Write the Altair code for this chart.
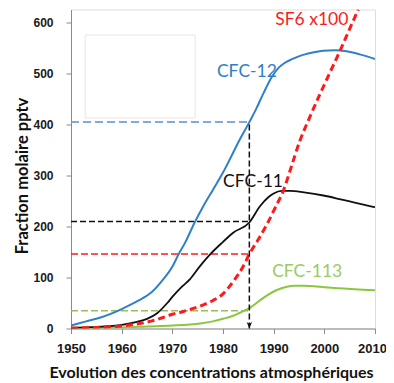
import altair as alt
import pandas as pd

# ---- data ----
cfc12_year = [1950, 1953, 1956, 1960, 1963, 1966, 1968, 1970, 1971.2, 1972.5, 1974.5, 1976, 1978,
              1980, 1981.4, 1983, 1985.2, 1986.5, 1988, 1989.6, 1991, 1992, 1993.5, 1995.2, 1997.5,
              1999.8, 2002, 2004.4, 2007, 2010]
cfc12_val = [6, 14, 22, 38, 53, 72, 94, 121, 145, 168, 210, 238, 272,
             306, 333, 365, 405, 430, 462, 493, 512, 520, 528, 535, 541,
             545, 546, 544, 538, 529]

cfc11_year = [1950, 1955, 1960, 1963, 1965, 1967, 1969, 1970, 1972, 1973.5, 1975.5, 1977.5, 1980,
              1982, 1985.2, 1987.3, 1989, 1990, 1991.6, 1993.3, 1996, 1999.8, 2003, 2006, 2010]
cfc11_val = [1, 3, 7, 13, 19, 30, 50, 62, 83, 97, 123, 146, 170,
             188, 208, 240, 258, 265, 270, 270, 267, 261, 254, 247, 238]

sf6_year = [1950, 1955, 1960, 1963, 1966, 1968, 1970, 1972, 1974, 1976, 1978, 1980, 1982, 1984,
            1985.2, 1987, 1988.7, 1990.3, 1991.9, 1993.5, 1995.2, 1997, 1999, 2001, 2003.1, 2005,
            2006.7]
sf6_val = [1, 2, 5, 9, 15, 21, 28, 33, 39, 46, 55, 68, 92, 122,
           146, 175, 205, 237, 270, 318, 369, 412, 457, 500, 545, 588,
           626]

cfc113_year = [1950, 1955, 1960, 1965, 1970, 1973.5, 1975.5, 1978, 1980, 1982, 1984, 1985.2, 1987,
               1988.7, 1990.5, 1992.6, 1994, 1996, 1998, 2000, 2003, 2006, 2010]
cfc113_val = [0, 1, 2, 4, 6, 8, 10, 14, 19, 25, 34, 40, 53,
              65, 75, 82, 84, 84, 83, 81, 79, 77, 75]

ref_names = ["CFC-12", "CFC-11", "SF6 x100", "CFC-113"]
ref_values = [405, 210, 146, 35]
ref_year = 1985.2
start_year = 1950

label_text = ["SF6 x100", "CFC-12", "CFC-11", "CFC-113"]
label_year = [1990.3, 1978.8, 1980.0, 1989.7]
label_value = [605, 504, 287, 111]
label_color = ["#ff1a1a", "#2f80c8", "#111111", "#9acb62"]

box_year = [1952.8, 1974.5]
box_value = [413, 576]

x_ticks = [1950, 1960, 1970, 1980, 1990, 2000, 2010]
y_ticks = [0, 100, 200, 300, 400, 500, 600]

# ---- encodings ----
x_axis = alt.Axis(values=x_ticks, format="d", grid=False, labelFlush=False, labelOverlap=False,
                  labelOffset={"condition": {"test": "datum.value == 2010", "value": -3},
                               "value": 0},
                  title="Evolution des concentrations atmosphériques",
                  labelFont="Liberation Sans", labelFontWeight="bold", labelFontSize=13,
                  labelColor="#1a1a1a", labelPadding=9, tickSize=5, tickColor="#8a8a8a",
                  domainColor="#8a8a8a", titleFont="Lato", titleFontWeight="bold",
                  titleFontSize=16, titleColor="#111111", titleX=140, titleY=44,
                  titleBaseline="middle", titleAlign="center")
y_axis = alt.Axis(values=y_ticks, format="d", grid=False, labelFlush=False, labelOverlap=False,
                  title="Fraction molaire pptv",
                  labelFont="Liberation Sans", labelFontWeight="bold", labelFontSize=12,
                  labelColor="#1a1a1a", labelPadding=13, tickSize=5, tickColor="#8a8a8a",
                  domainColor="#8a8a8a", titleFont="Lato", titleFontWeight="bold",
                  titleFontSize=16.5, titleColor="#111111", titleX=-49, titleY=166,
                  titleAngle=270, titleBaseline="middle", titleAlign="center")
xs = alt.Scale(domain=[1950, 2010], nice=False, zero=False)
ys = alt.Scale(domain=[0, 626], nice=False)


def X(field="year"):
    return alt.X(f"{field}:Q", scale=xs, axis=x_axis)


def Y(field="value"):
    return alt.Y(f"{field}:Q", scale=ys, axis=y_axis)


def curve(years, vals, color, width, dash=None):
    df = pd.DataFrame({"year": years, "value": vals})
    kw = dict(color=color, strokeWidth=width, clip=True, interpolate="monotone")
    if dash:
        kw["strokeDash"] = dash
    return alt.Chart(df).mark_line(**kw).encode(x=X(), y=Y())


box_df = pd.DataFrame({"year": [box_year[0]], "year2": [box_year[1]],
                       "value": [box_value[0]], "value2": [box_value[1]]})
box = alt.Chart(box_df).mark_rect(fill="white", stroke="#e6e6e6", strokeWidth=1).encode(
    x=X(), x2="year2:Q", y=Y(), y2="value2:Q")

ref_colors = ["#5a8ed0", "#111111", "#ff1a1a", "#9bbb59"]
ref_dash = [[8, 4], [6, 3], [7, 3], [7, 3]]
refs = []
for n, v, c, d in zip(ref_names, ref_values, ref_colors, ref_dash):
    df = pd.DataFrame({"year": [start_year], "year2": [ref_year], "value": [v]})
    refs.append(alt.Chart(df).mark_rule(color=c, strokeWidth=1.5, strokeDash=d).encode(
        x=X(), x2="year2:Q", y=Y()))

vline_df = pd.DataFrame({"year": [ref_year], "value": [0], "value2": [ref_values[0]]})
vline = alt.Chart(vline_df).mark_rule(color="#111111", strokeWidth=1.5, strokeDash=[6, 3]).encode(
    x=X(), y=Y(), y2="value2:Q")

arrow_df = pd.DataFrame({"year": [ref_year], "value": [0]})
arrow = alt.Chart(arrow_df).mark_point(
    shape="M0,0L-1,-2.4L0,-1.7L1,-2.4Z", filled=True, color="#111111", size=30, opacity=1
).encode(x=X(), y=Y())

lab_df = pd.DataFrame({"year": label_year, "value": label_value, "text": label_text,
                       "color": label_color})
labels = alt.Chart(lab_df).mark_text(align="left", baseline="middle", font="Lato",
                                     fontSize=17.5).encode(
    x=X(), y=Y(), text="text:N", color=alt.Color("color:N", scale=None))

chart = alt.layer(
    box, *refs,
    curve(cfc113_year, cfc113_val, "#8cc63f", 2),
    curve(cfc11_year, cfc11_val, "#111111", 1.8),
    curve(cfc12_year, cfc12_val, "#2f80c8", 2),
    curve(sf6_year, sf6_val, "#ff1a1a", 3, [7, 4]),
    vline, arrow, labels,
).properties(
    width=304, height=319,
    autosize=alt.AutoSizeParams(type="none"),
    padding={"left": 63, "top": 1.5, "right": 11, "bottom": 54.5},
).configure_view(stroke=None).configure(background="white")

chart.save("out.html", embed_options={"renderer": "svg", "actions": False})
